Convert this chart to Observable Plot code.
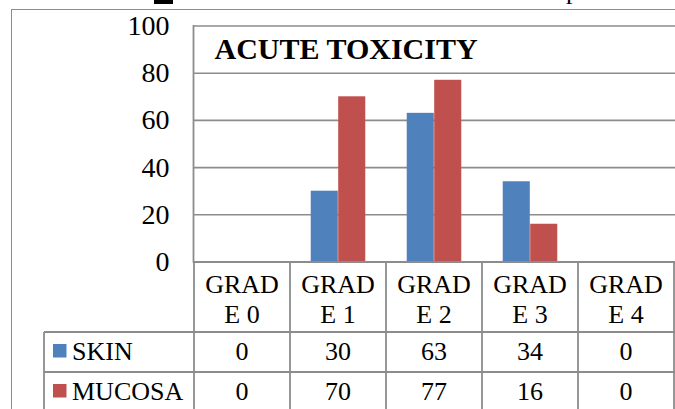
<!DOCTYPE html>
<html>
<head>
<meta charset="utf-8">
<script src="https://cdn.jsdelivr.net/npm/d3@7"></script>
<script src="https://cdn.jsdelivr.net/npm/@observablehq/plot@0.6"></script>
<style>
  html, body { margin: 0; padding: 0; background: #fff; overflow: hidden; }
  #wrap { position: relative; width: 675px; height: 409px; overflow: hidden; background: #fff; }
  #border { position: absolute; left: 11px; top: 9px; width: 760px; height: 520px; border: 1.6px solid #8c8c8c; box-sizing: border-box; }
  #chart { position: absolute; left: 0; top: 0; }
  #deco { position: absolute; left: 0; top: 0; }
  #chart text, #deco text { font-family: "Liberation Serif", serif !important; }
</style>
</head>
<body>
<div id="wrap">
  <div id="border"></div>
  <div id="chart"></div>
  <svg id="deco" width="675" height="409" style="overflow:hidden">
    <rect x="154" y="-10" width="19" height="14" fill="#000"></rect>
    <text x="566" y="-1.5" font-family="Liberation Serif" font-size="26" fill="#000">p</text>
  </svg>
</div>
<script>
// ---- data ----
const categories = ["GRADE 0", "GRADE 1", "GRADE 2", "GRADE 3", "GRADE 4"];
const categoryLabels = [["GRAD", "E 0"], ["GRAD", "E 1"], ["GRAD", "E 2"], ["GRAD", "E 3"], ["GRAD", "E 4"]];
const seriesNames = ["SKIN", "MUCOSA"];
const skin = [0, 30, 63, 34, 0];
const mucosa = [0, 70, 77, 16, 0];
const yTicks = [0, 20, 40, 60, 80, 100];
const title = "ACUTE TOXICITY";
const colors = ["#4F81BD", "#C0504D"];

// ---- layout ----
const W = 675, H = 409;
const mLeft = 193, mRight = 0, mTop = 25.5, mBottom = 147.5;
const gridColor = "#8c8c8c";
const font = "Liberation Serif";

const bandW = (W - mLeft - mRight) / categories.length;
const outerInset = bandW * 0.215;
const innerInset = bandW * 0.5;

const skinRows = categories.map((c, i) => ({category: c, series: seriesNames[0], value: skin[i]}));
const mucosaRows = categories.map((c, i) => ({category: c, series: seriesNames[1], value: mucosa[i]}));
const tableSeries = [skin, mucosa];

function tableMark(index, scales, values, dimensions) {
  const x = scales.x, y = scales.y;
  const g = d3.create("svg:g").attr("font-family", font);
  const top = y(0);
  const headerH = 70.5, rowH = 40;
  const legendLeft = 44;
  const bw = x.bandwidth ? x.bandwidth() : bandW;
  const edges = categories.map(c => x(c)).concat([x(categories[categories.length - 1]) + bw]);
  const bottom = top + headerH + rowH * tableSeries.length;
  const lineAttrs = sel => sel.attr("stroke", gridColor).attr("stroke-width", 1.8).attr("fill", "none");
  const txt = (xx, yy, t, anchor) => g.append("text").attr("x", xx).attr("y", yy)
      .attr("text-anchor", anchor).attr("font-family", font).attr("font-size", 26)
      .attr("fill", "#000").text(t);
  edges.forEach(e => {
    g.append("line").attr("x1", e).attr("x2", e).attr("y1", top).attr("y2", bottom).call(lineAttrs);
  });
  g.append("line").attr("x1", legendLeft).attr("x2", legendLeft)
    .attr("y1", top + headerH).attr("y2", bottom).call(lineAttrs);
  for (let r = 0; r <= tableSeries.length; r++) {
    const yy = top + headerH + r * rowH;
    g.append("line").attr("x1", legendLeft).attr("x2", dimensions.width).attr("y1", yy).attr("y2", yy).call(lineAttrs);
  }
  categories.forEach((c, i) => {
    const cx = x(c) + bw / 2;
    categoryLabels[i].forEach((t, k) => txt(cx, top + 31 + k * 30, t, "middle"));
  });
  tableSeries.forEach((vals, r) => {
    const rowTop = top + headerH + r * rowH;
    g.append("rect").attr("x", 53).attr("y", rowTop + 12).attr("width", 13.5).attr("height", 13.5).attr("fill", colors[r]);
    txt(72, rowTop + 28, seriesNames[r], "start");
    vals.forEach((v, i) => txt(x(categories[i]) + bw / 2, rowTop + 28, String(v), "middle"));
  });
  return g.node();
}

const chart = Plot.plot({
  width: W,
  height: H,
  marginTop: mTop,
  marginBottom: mBottom,
  marginLeft: mLeft,
  marginRight: mRight,
  style: {fontFamily: font, color: "#000", background: "transparent", overflow: "visible"},
  x: {domain: categories, padding: 0, axis: null},
  y: {domain: [0, 100], axis: null, label: null},
  marks: [
    Plot.gridY(yTicks, {stroke: gridColor, strokeOpacity: 1, strokeWidth: 1.6}),
    Plot.barY(skinRows, {x: "category", y: "value", fill: colors[0], insetLeft: outerInset, insetRight: innerInset}),
    Plot.barY(mucosaRows, {x: "category", y: "value", fill: colors[1], insetLeft: innerInset, insetRight: outerInset}),
    Plot.axisY(yTicks, {tickSize: 0, tickPadding: 24, fontSize: 28, fontFamily: font, fill: "#000", label: null, tickFormat: d => String(d)}),
    Plot.frame({anchor: "left", stroke: gridColor, strokeWidth: 1.8}),
    Plot.ruleY([0], {stroke: gridColor, strokeWidth: 1.8}),
    Plot.text([title], {frameAnchor: "top-left", dx: 21, dy: 11.2, fontWeight: "bold", fontSize: 30, fontFamily: font, fill: "#000"}),
    tableMark
  ]
});
document.getElementById("chart").appendChild(chart);
</script>
</body>
</html>
